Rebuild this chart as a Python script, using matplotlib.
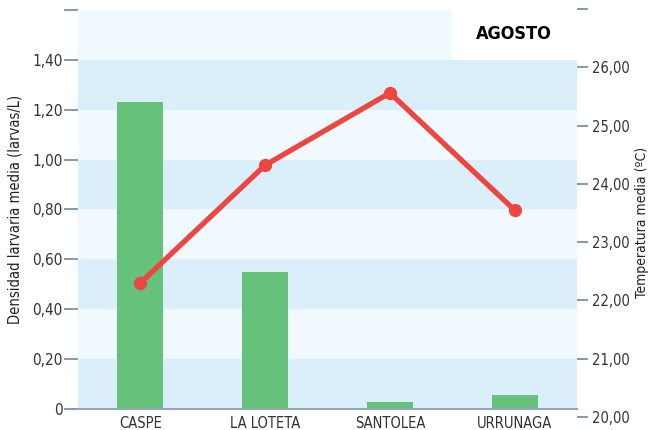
import matplotlib.pyplot as plt

plt.rcParams['font.family'] = ['DejaVu Sans']
plt.rcParams['font.stretch'] = 'condensed'

sites = ['CASPE', 'LA LOTETA', 'SANTOLEA', 'URRUNAGA']
density = [1.23, 0.55, 0.03, 0.055]
temperature = [22.30, 24.32, 25.56, 23.55]
left_ticks = [0, 0.2, 0.4, 0.6, 0.8, 1.0, 1.2, 1.4, 1.6]
left_labels = ['0', '0,20', '0,40', '0,60', '0,80', '1,00', '1,20', '1,40', '']
right_ticks = [20, 21, 22, 23, 24, 25, 26, 27]
right_labels = ['20,00', '21,00', '22,00', '23,00', '24,00', '25,00', '26,00', '']

dark_band = '#dbeffa'
light_band = '#f0f9fe'
tick_col = '#6d8aa0'

fig = plt.figure(figsize=(6.49, 4.30), dpi=100)
ax = fig.add_axes([78/649, 1 - 409/430, 499/649, 399/430])
ax.set_xlim(-0.5, 3.5)
ax.set_ylim(0, 1.6)

# alternating background bands
for i in range(len(left_ticks) - 1):
    lo, hi = left_ticks[i], left_ticks[i + 1]
    col = dark_band if i % 2 == 0 else light_band
    if hi == 1.6:
        ax.axhspan(lo, hi, xmin=0, xmax=(452 - 78) / 499, color=col, lw=0, zorder=0)
    else:
        ax.axhspan(lo, hi, color=col, lw=0, zorder=0)

ax.bar(range(len(sites)), density, width=0.37, color='#66c17a', zorder=2)

ax.set_yticks(left_ticks)
ax.set_yticklabels(left_labels)
ax.set_xticks(range(len(sites)))
ax.set_xticklabels(sites)
ax.tick_params(axis='y', length=10, color=tick_col, width=1.2, labelsize=11, labelcolor='#333333', pad=1)
ax.tick_params(axis='x', length=0, labelsize=10.5, labelcolor='#333333', pad=5)
for s in ['top', 'right', 'left']:
    ax.spines[s].set_visible(False)
ax.spines['bottom'].set_color('#8fa9bb')
ax.spines['bottom'].set_linewidth(1.5)
ax.set_ylabel('Densidad larvaria media (larvas/L)', fontsize=10.5, color='#222222', labelpad=7)

# right axis is slightly offset from the left one in the original
ax2 = fig.add_axes([78/649, 1 - 417/430, 499/649, 408/430], facecolor='none')
ax2.set_xlim(-0.5, 3.5)
ax2.set_ylim(20, 27)
ax2.plot(range(len(sites)), temperature, color='#ee4540', lw=3.8, marker='o', ms=8.5,
         solid_capstyle='round', zorder=3, clip_on=False)
ax2.yaxis.tick_right()
ax2.set_yticks(right_ticks)
ax2.set_yticklabels(right_labels)
ax2.set_xticks([])
ax2.tick_params(axis='y', length=8, color=tick_col, width=1.2, labelsize=10.5, labelcolor='#333333', pad=3)
for s in ax2.spines.values():
    s.set_visible(False)

fig.text(642/649, 1 - 222/430, 'Temperatura media (ºC)', fontsize=10, color='#222222',
         rotation=90, ha='center', va='center')
fig.text(514/649, 1 - 34/430, 'AGOSTO', fontsize=13, fontweight='bold', ha='center', va='center')

fig.savefig('out.png', dpi=100)
